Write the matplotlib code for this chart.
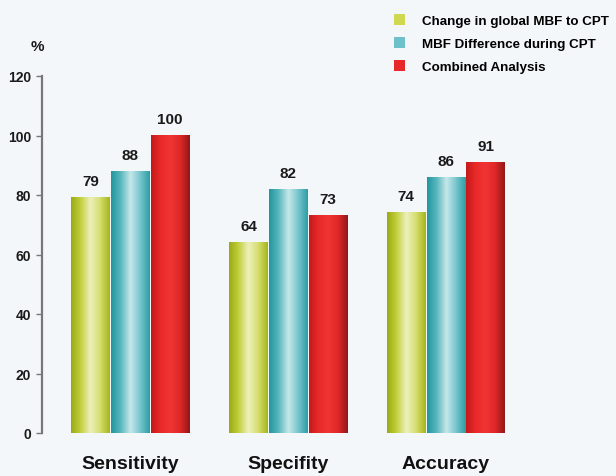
import matplotlib
matplotlib.use("Agg")
import matplotlib.pyplot as plt
import numpy as np
from matplotlib.colors import LinearSegmentedColormap
from matplotlib.patches import Patch

CATEGORIES = ["Sensitivity", "Specifity", "Accuracy"]
SERIES = ["Change in global MBF to CPT", "MBF Difference during CPT", "Combined Analysis"]
GLOBAL_MBF = [79, 64, 74]
MBF_DIFF = [88, 82, 86]
COMBINED = [100, 73, 91]
Y_TICKS = [0, 20, 40, 60, 80, 100, 120]

BG = "#f4f7f9"
# cylinder-like shading, left edge -> highlight -> right edge
GRADIENTS = [
    ["#9aab12", "#c4d040", "#eef0bc", "#d6de70", "#a6b61c"],
    ["#23969e", "#5ab8be", "#c6e8ea", "#78c6cc", "#2e9ea6"],
    ["#c41a1a", "#ea2a2a", "#f03434", "#e02828", "#941818"],
]
LEGEND_COLORS = ["#d0d850", "#6cc2c8", "#e82828"]

plt.rcParams["font.family"] = ["Liberation Sans", "DejaVu Sans"]

fig = plt.figure(figsize=(6.16, 4.77), dpi=100, facecolor=BG)
ax = fig.add_axes([42 / 616, 1 - 434 / 477, (560 - 42) / 616, (434 - 77) / 477])
ax.set_facecolor(BG)

x = np.arange(len(CATEGORIES))
width = 0.245
values = [GLOBAL_MBF, MBF_DIFF, COMBINED]

for i, vals in enumerate(values):
    cmap = LinearSegmentedColormap.from_list(f"g{i}", GRADIENTS[i])
    grad = np.linspace(0, 1, 64).reshape(1, -1)
    bars = ax.bar(x + (i - 1) * 0.252, vals, width, color="none",
                  edgecolor="none", zorder=2)
    for b, v in zip(bars, vals):
        x0 = b.get_x()
        ax.imshow(grad, cmap=cmap, aspect="auto", zorder=2,
                  extent=(x0, x0 + b.get_width(), 0, b.get_height()))
        ax.text(b.get_x() + b.get_width() / 2, v + 3.2, f"{v}",
                ha="center", va="bottom", fontsize=11, fontweight="bold",
                color="#1a1a1a")

ax.set_xlim(-0.561, 2.723)
ax.set_ylim(0, 120)
ax.set_yticks(Y_TICKS)
ax.set_yticklabels([str(t) for t in Y_TICKS], fontsize=10, fontweight="bold",
                   color="#1a1a1a")
ax.set_xticks(x)
ax.set_xticklabels(CATEGORIES, fontsize=14, fontweight="bold", color="#111111")
ax.tick_params(axis="x", length=0, pad=16)
ax.tick_params(axis="y", length=4, width=1, color="#777777", pad=4)

for spine in ("top", "right", "bottom"):
    ax.spines[spine].set_visible(False)
ax.spines["left"].set_color("#777777")
ax.spines["left"].set_linewidth(1.6)

fig.text(37 / 616, 1 - 47 / 477, "%", ha="center", va="center",
         fontsize=11, fontweight="bold", color="#1a1a1a")

handles = [Patch(facecolor=c, edgecolor="none") for c in LEGEND_COLORS]
fig.legend(handles, SERIES, loc="upper left",
           bbox_to_anchor=(394 / 616, 1 - 15 / 477), frameon=False,
           prop={"size": 9.6, "weight": "bold"}, handlelength=0.8,
           handleheight=0.9, handletextpad=1.3, labelspacing=0.75,
           borderaxespad=0, borderpad=0)

plt.savefig("out.png", dpi=100, facecolor=BG)
